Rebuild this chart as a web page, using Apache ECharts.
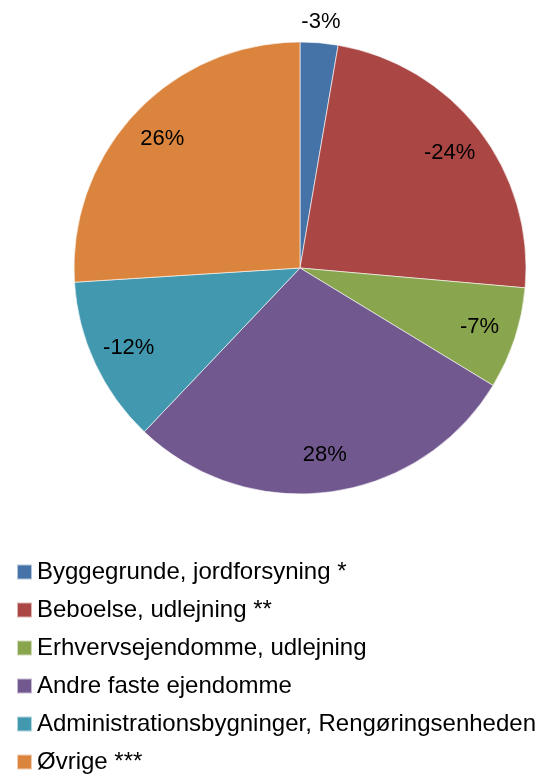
<!DOCTYPE html>
<html>
<head>
<meta charset="utf-8">
<script src="https://cdn.jsdelivr.net/npm/echarts@6/dist/echarts.min.js"></script>
<style>html,body{margin:0;padding:0;background:#fff}#c{width:552px;height:779px}</style>
</head>
<body>
<div id="c"></div>
<script>
const categories = ['Byggegrunde, jordforsyning *','Beboelse, udlejning **','Erhvervsejendomme, udlejning','Andre faste ejendomme','Administrationsbygninger, Rengøringsenheden','Øvrige ***'];
const values = [-2.7, -23.7, -7.3, 28.4, -11.9, 26.0];
const colors = ['#4572A7','#AA4643','#89A54E','#71588F','#4198AF','#DB843D'];
const outsideLabel = [true, false, false, false, false, false];

const FONT = 'Liberation Sans';
const center = [300, 268];
const R = 226;
const fmt = p => Math.round(values[p.dataIndex]) + '%';
const lbl = {color:'#000', fontFamily: FONT, fontSize: 22};

const chart = echarts.init(document.getElementById('c'));
chart.setOption({
  animation: false,
  color: colors,
  legend: {
    orient: 'vertical', left: 16, top: 560, padding: 0,
    itemWidth: 15, itemHeight: 15, itemGap: 14,
    icon: 'rect',
    data: categories,
    textStyle: {fontFamily: FONT, fontSize: 24, color: '#000', lineHeight: 24, padding: [0,0,0,0]},
    selectedMode: false
  },
  series: [
    {
      type: 'pie', center: center, radius: [0, R], startAngle: 90,
      label: {show: false}, labelLine: {show: false}, silent: true,
      itemStyle: {borderColor: 'rgba(255,255,255,0.6)', borderWidth: 1},
      data: categories.map((n, i) => ({name: n, value: Math.abs(values[i]), itemStyle: {color: colors[i]}}))
    },
    {
      type: 'pie', center: center, radius: [146, R], startAngle: 90, silent: true,
      itemStyle: {color: 'transparent'}, labelLine: {show: false},
      label: Object.assign({show: true, position: 'inside', formatter: fmt}, lbl),
      data: categories.map((n, i) => ({name: n, value: Math.abs(values[i]), label: {show: !outsideLabel[i]}}))
    },
    {
      type: 'pie', center: center, radius: [R, 262], startAngle: 90, silent: true,
      itemStyle: {color: 'transparent'}, labelLine: {show: false},
      label: Object.assign({show: true, position: 'inside', formatter: fmt}, lbl),
      data: categories.map((n, i) => ({name: n, value: Math.abs(values[i]), label: {show: outsideLabel[i]}}))
    }
  ]
});
</script>
</body>
</html>
